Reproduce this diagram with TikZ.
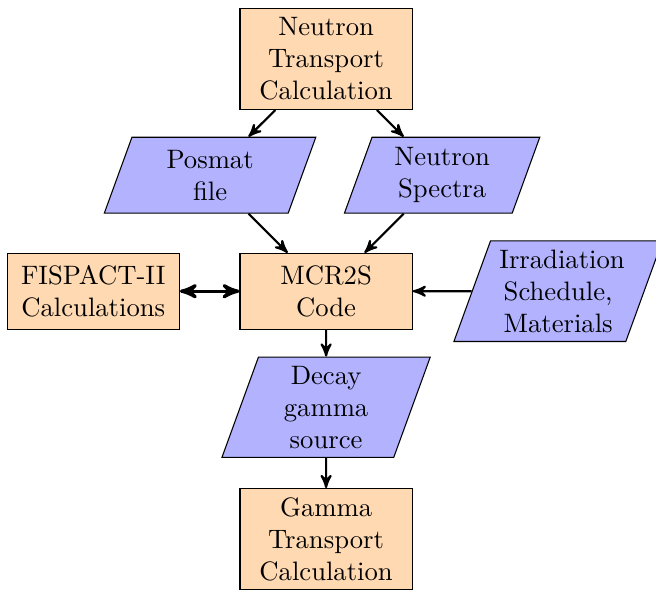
\documentclass[tikz,border=0pt]{standalone}
\usetikzlibrary{arrows,positioning,shapes.geometric}

\begin{document}
\begin{tikzpicture}[>=stealth',on grid,node distance=1.53cm,
                    box node/.style={rectangle,draw,fill=orange!30,minimum width=2.27cm,minimum height=1cm,align=center},
                    data node/.style={trapezium,trapezium left angle=70,trapezium right angle=110,draw,fill=blue!30,text width=1.55cm,minimum height=1cm,align=center}]
  \useasboundingbox (-4.30,-3.93) rectangle (4.35,3.84);
  \node[box node] (mcr) {MCR2S\\Code};
  \node[box node] (ntc) [above=3.06cm of mcr] {Neutron\\Transport\\Calculation};
  \node[data node,text width=1.62cm] (posmat) [above left=1.53cm and 1.53cm of mcr] {Posmat\\file};
  \node[data node] (spectra) [above right=1.53cm and 1.53cm of mcr] {Neutron\\Spectra};
  \node[box node] (fispact) [left=3.07cm of mcr] {FISPACT-II\\Calculations};
  \node[data node] (irrad) [right=3.06cm of mcr] {Irradiation\\Schedule,\\Materials};
  \node[data node] (decay) [below=of mcr] {Decay\\gamma\\source};
  \node[box node] (gamma) [below=3.27cm of mcr] {Gamma\\Transport\\Calculation};
  \path[->,thick]
    (ntc) edge (posmat)
          edge (spectra)
    (posmat) edge (mcr)
    (spectra) edge (mcr)
    (irrad) edge (mcr)
    (mcr) edge (decay)
    (decay) edge (gamma);
  \draw[<->,very thick] (fispact) -- (mcr);
\end{tikzpicture}
\end{document}
